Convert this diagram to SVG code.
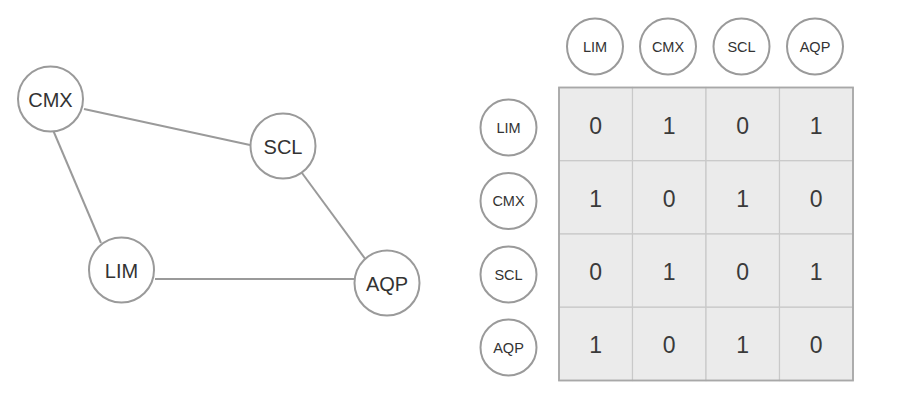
<svg xmlns="http://www.w3.org/2000/svg" width="904" height="409" viewBox="0 0 904 409">
  <style>
    .node circle { fill: #ffffff; stroke: #9a9a9a; stroke-width: 2; }
    .big text { font-family: "Liberation Sans", Arial, sans-serif; font-size: 20px; fill: #333333; text-anchor: middle; }
    .small text { font-family: "Liberation Sans", Arial, sans-serif; font-size: 14.5px; fill: #333333; text-anchor: middle; }
    .edge { stroke: #9a9a9a; stroke-width: 2; fill: none; }
    .cell { fill: #ebebeb; stroke: #c9c9c9; stroke-width: 1.2; }
    .val { font-family: "Liberation Sans", Arial, sans-serif; font-size: 23px; fill: #3a3a3a; text-anchor: middle; }
  </style>

  <rect width="904" height="409" fill="#ffffff"/>

  <!-- graph connectors -->
  <g id="connectors">
    <line class="edge" x1="84" y1="109" x2="250" y2="145"/>
    <line class="edge" x1="53" y1="130" x2="101" y2="243"/>
    <line class="edge" x1="302" y1="173" x2="366" y2="260"/>
    <line class="edge" x1="155" y1="279" x2="354" y2="279"/>
  </g>

  <!-- graph nodes -->
  <g id="node-cmx" class="node big">
    <circle cx="50.5" cy="99" r="32.5"/>
    <text x="50.5" y="106.5">CMX</text>
  </g>
  <g id="node-scl" class="node big">
    <circle cx="283" cy="146" r="32.5"/>
    <text x="283" y="153.5">SCL</text>
  </g>
  <g id="node-lim" class="node big">
    <circle cx="121.5" cy="270" r="32.5"/>
    <text x="121.5" y="277.5">LIM</text>
  </g>
  <g id="node-aqp" class="node big">
    <circle cx="387" cy="283" r="32.5"/>
    <text x="387" y="290.5">AQP</text>
  </g>

  <!-- matrix column headers -->
  <g id="col-lim" class="node small">
    <circle cx="595" cy="46.5" r="28"/>
    <text x="595" y="51.5">LIM</text>
  </g>
  <g id="col-cmx" class="node small">
    <circle cx="668" cy="46.5" r="28"/>
    <text x="668" y="51.5">CMX</text>
  </g>
  <g id="col-scl" class="node small">
    <circle cx="741.5" cy="46.5" r="28"/>
    <text x="741.5" y="51.5">SCL</text>
  </g>
  <g id="col-aqp" class="node small">
    <circle cx="815" cy="46.5" r="28"/>
    <text x="815" y="51.5">AQP</text>
  </g>

  <!-- matrix row headers -->
  <g id="row-lim" class="node small">
    <circle cx="508.5" cy="127.5" r="28"/>
    <text x="508.5" y="132.5">LIM</text>
  </g>
  <g id="row-cmx" class="node small">
    <circle cx="508.5" cy="201" r="28"/>
    <text x="508.5" y="206">CMX</text>
  </g>
  <g id="row-scl" class="node small">
    <circle cx="508.5" cy="274.5" r="28"/>
    <text x="508.5" y="279.5">SCL</text>
  </g>
  <g id="row-aqp" class="node small">
    <circle cx="508.5" cy="347.5" r="28"/>
    <text x="508.5" y="352.5">AQP</text>
  </g>

  <!-- adjacency matrix -->
  <g id="matrix">
    <rect class="cell" x="559" y="87.5" width="73.5" height="73.25"/>
    <rect class="cell" x="632.5" y="87.5" width="73.5" height="73.25"/>
    <rect class="cell" x="706" y="87.5" width="73.5" height="73.25"/>
    <rect class="cell" x="779.5" y="87.5" width="73.5" height="73.25"/>
    <rect class="cell" x="559" y="160.75" width="73.5" height="73.25"/>
    <rect class="cell" x="632.5" y="160.75" width="73.5" height="73.25"/>
    <rect class="cell" x="706" y="160.75" width="73.5" height="73.25"/>
    <rect class="cell" x="779.5" y="160.75" width="73.5" height="73.25"/>
    <rect class="cell" x="559" y="234" width="73.5" height="73.25"/>
    <rect class="cell" x="632.5" y="234" width="73.5" height="73.25"/>
    <rect class="cell" x="706" y="234" width="73.5" height="73.25"/>
    <rect class="cell" x="779.5" y="234" width="73.5" height="73.25"/>
    <rect class="cell" x="559" y="307.25" width="73.5" height="73.25"/>
    <rect class="cell" x="632.5" y="307.25" width="73.5" height="73.25"/>
    <rect class="cell" x="706" y="307.25" width="73.5" height="73.25"/>
    <rect class="cell" x="779.5" y="307.25" width="73.5" height="73.25"/>
    <rect x="559" y="87.5" width="294" height="293" fill="none" stroke="#a8a8a8" stroke-width="1.8"/>

    <text class="val" x="595.75" y="133.5">0</text>
    <text class="val" x="669.25" y="133.5">1</text>
    <text class="val" x="742.75" y="133.5">0</text>
    <text class="val" x="816.25" y="133.5">1</text>

    <text class="val" x="595.75" y="206.75">1</text>
    <text class="val" x="669.25" y="206.75">0</text>
    <text class="val" x="742.75" y="206.75">1</text>
    <text class="val" x="816.25" y="206.75">0</text>

    <text class="val" x="595.75" y="280">0</text>
    <text class="val" x="669.25" y="280">1</text>
    <text class="val" x="742.75" y="280">0</text>
    <text class="val" x="816.25" y="280">1</text>

    <text class="val" x="595.75" y="353.25">1</text>
    <text class="val" x="669.25" y="353.25">0</text>
    <text class="val" x="742.75" y="353.25">1</text>
    <text class="val" x="816.25" y="353.25">0</text>
  </g>
</svg>
